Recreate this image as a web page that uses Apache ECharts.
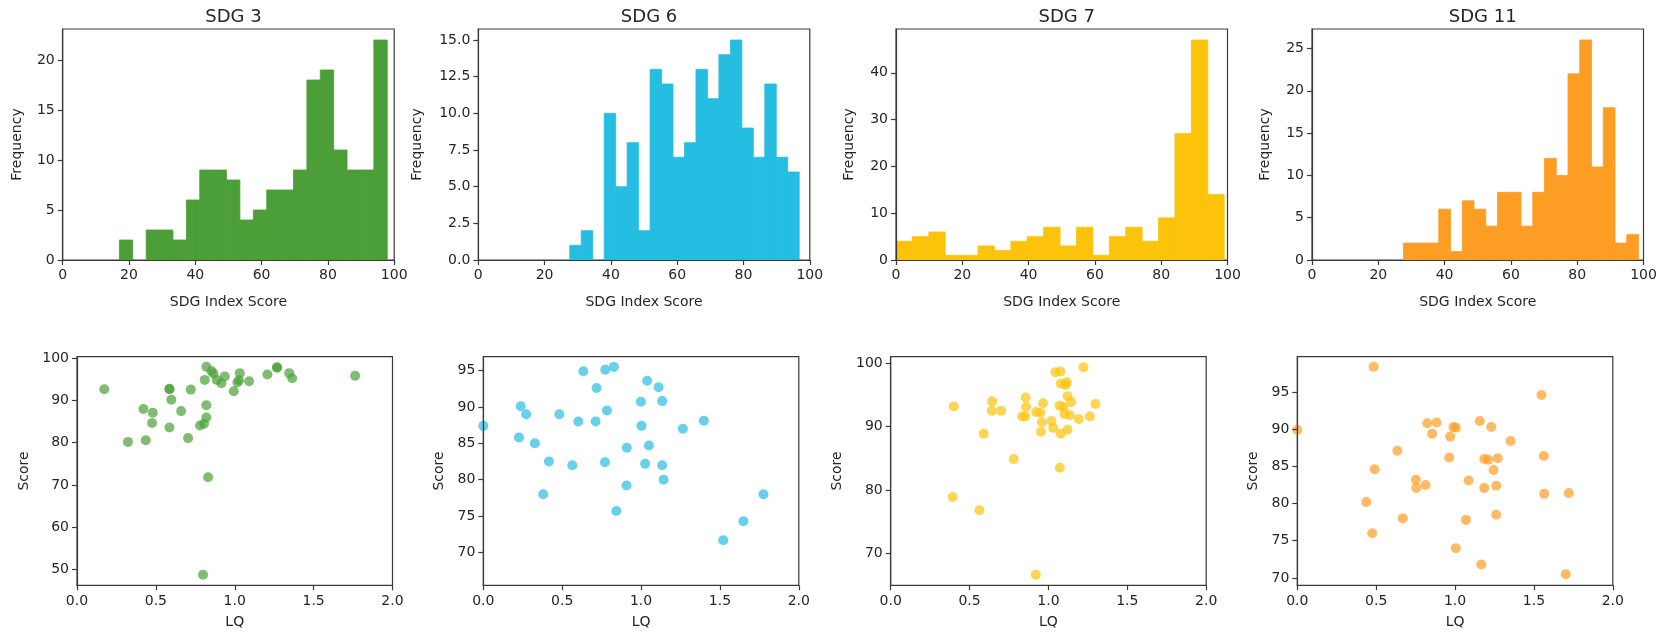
<!DOCTYPE html>
<html>
<head>
<meta charset="utf-8">
<script src="https://cdn.jsdelivr.net/npm/echarts@6/dist/echarts.min.js"></script>
<style>
  html, body { margin: 0; padding: 0; background: #fff; }
  #chart { width: 1665px; height: 633px; }
</style>
</head>
<body>
<div id="chart"></div>
<script>
const titles = ['SDG 3', 'SDG 6', 'SDG 7', 'SDG 11'];
const colors = ['#4C9F38', '#26BDE2', '#FCC30B', '#FD9D24'];

// histograms: first/last bin edge, then counts of the 20 equal bins
const sdg3Range = [17.1, 97.9];
const sdg3Counts = [2, 0, 3, 3, 2, 6, 9, 9, 8, 4, 5, 7, 7, 9, 18, 19, 11, 9, 9, 22];
const sdg6Range = [27.6, 96.8];
const sdg6Counts = [1, 2, 0, 10, 5, 8, 2, 13, 12, 7, 8, 13, 11, 14, 15, 9, 7, 12, 7, 6];
const sdg7Range = [0, 99.0];
const sdg7Counts = [4, 5, 6, 1, 1, 3, 2, 4, 5, 7, 3, 7, 1, 5, 7, 4, 9, 27, 47, 14];
const sdg11Range = [27.6, 98.5];
const sdg11Counts = [2, 2, 2, 6, 1, 7, 6, 4, 8, 8, 4, 8, 12, 10, 22, 26, 11, 18, 2, 3];

const histXTicks = [0, 20, 40, 60, 80, 100];
const histYTicks = [
  [0, 5, 10, 15, 20],
  [0, 2.5, 5, 7.5, 10, 12.5, 15],
  [0, 10, 20, 30, 40],
  [0, 5, 10, 15, 20, 25]
];
const histYMax = [23.1, 15.75, 49.35, 27.3];

// scatter: LQ vs score
const sdg3LQ = [0.173, 0.323, 0.421, 0.436, 0.480, 0.476, 0.586, 0.586, 0.598, 0.586, 0.660, 0.704, 0.721,
  0.820, 0.810, 0.820, 0.820, 0.780, 0.805, 0.831, 0.799, 0.852, 0.865, 0.886, 0.915, 0.937, 0.994,
  1.017, 1.032, 1.027, 1.091, 1.207, 1.268, 1.268, 1.345, 1.364, 1.763];
const sdg3Score = [92.7, 80.2, 88.0, 80.6, 87.1, 84.7, 92.8, 92.7, 90.2, 83.6, 87.5, 81.1, 92.6,
  98.0, 94.9, 88.9, 86.0, 84.1, 84.5, 71.8, 48.7, 97.0, 96.4, 94.9, 94.1, 95.7, 92.2,
  94.3, 96.5, 94.8, 94.6, 96.2, 97.9, 97.8, 96.5, 95.3, 95.9];

const sdg6LQ = [0.0, 0.237, 0.272, 0.226, 0.327, 0.416, 0.380, 0.482, 0.564, 0.602, 0.634, 0.718, 0.712,
  0.773, 0.828, 0.784, 0.771, 0.843, 0.910, 0.908, 0.999, 1.003, 1.039, 1.050, 1.026, 1.111, 1.134,
  1.134, 1.143, 1.265, 1.398, 1.521, 1.649, 1.776];
const sdg6Score = [87.4, 90.1, 89.0, 85.8, 85.0, 82.5, 78.0, 89.0, 82.0, 88.0, 94.9, 92.6, 88.0,
  95.1, 95.5, 89.5, 82.4, 75.7, 84.4, 79.2, 90.7, 87.4, 93.6, 84.7, 82.2, 92.7, 90.8,
  82.0, 80.0, 87.0, 88.1, 71.7, 74.3, 78.0];

const sdg7LQ = [0.400, 0.393, 0.562, 0.590, 0.643, 0.641, 0.700, 0.780, 0.833, 0.854, 0.856, 0.858, 0.920,
  0.922, 0.949, 0.966, 0.958, 0.953, 1.019, 1.030, 1.044, 1.076, 1.078, 1.108, 1.116, 1.070, 1.097,
  1.101, 1.121, 1.144, 1.135, 1.078, 1.121, 1.072, 1.192, 1.222, 1.262, 1.298];
const sdg7Score = [93.2, 78.9, 76.8, 88.9, 94.0, 92.5, 92.5, 84.9, 91.6, 91.6, 94.6, 93.1, 66.6,
  92.3, 92.2, 93.7, 90.7, 89.2, 90.9, 89.8, 98.6, 98.7, 96.8, 96.6, 97.0, 93.3, 93.1,
  92.0, 94.8, 93.9, 91.8, 88.9, 89.5, 83.5, 91.2, 99.4, 91.6, 93.6];

const sdg11LQ = [0.0, 0.484, 0.490, 0.437, 0.475, 0.634, 0.669, 0.752, 0.754, 0.813, 0.824, 0.883, 0.855,
  0.969, 0.963, 0.990, 1.005, 1.005, 1.069, 1.086, 1.157, 1.166, 1.185, 1.210, 1.185, 1.229, 1.244,
  1.271, 1.261, 1.261, 1.352, 1.548, 1.563, 1.565, 1.721, 1.702];
const sdg11Score = [89.9, 98.4, 84.6, 80.2, 76.0, 87.1, 78.0, 83.2, 82.1, 82.5, 90.8, 90.9, 89.4,
  89.0, 86.2, 90.3, 90.2, 74.0, 77.8, 83.1, 91.1, 71.8, 86.0, 85.9, 82.1, 90.3, 84.5,
  86.1, 82.4, 78.5, 88.4, 94.6, 86.4, 81.3, 81.4, 70.5];

const lqTicks = [0, 0.5, 1, 1.5, 2];
const scatterYTicks = [
  [50, 60, 70, 80, 90, 100],
  [70, 75, 80, 85, 90, 95],
  [70, 80, 90, 100],
  [70, 75, 80, 85, 90, 95]
];
const scatterYRange = [[46.2, 100.4], [65.5, 96.9], [64.95, 101.05], [69.0, 99.75]];

const histRanges = [sdg3Range, sdg6Range, sdg7Range, sdg11Range];
const histCounts = [sdg3Counts, sdg6Counts, sdg7Counts, sdg11Counts];
const lqs = [sdg3LQ, sdg6LQ, sdg7LQ, sdg11LQ];
const scores = [sdg3Score, sdg6Score, sdg7Score, sdg11Score];

// layout (px)
const histLeft = [62.7, 478.3, 896, 1312];
const histWidth = 331.5;
const scatLeft = [77, 483.3, 890.7, 1297.3];
const scatWidth = 315.5;
const histYNameGap = [38, 54, 40, 40];
const scatYNameGap = [46, 37, 46, 37];

const textColor = '#262626';
const lineColor = '#3a3a3a';
const font = 'DejaVu Sans';

const binsOf = (range, counts) => {
  const w = (range[1] - range[0]) / counts.length;
  return counts.map((c, i) => [range[0] + i * w, range[0] + (i + 1) * w, c]);
};

const renderBin = (params, api) => {
  if (!api.value(2)) return null;
  const p0 = api.coord([api.value(0), api.value(2)]);
  const p1 = api.coord([api.value(1), 0]);
  const color = api.visual('color');
  return {
    type: 'rect',
    shape: { x: p0[0], y: p0[1], width: p1[0] - p0[0], height: p1[1] - p0[1] },
    // thin stroke of the same colour hides the seams between neighbouring bins
    style: { fill: color, stroke: color, lineWidth: 0.8 }
  };
};

const fmt1 = v => v.toFixed(1);

const axisBase = (ticks, formatter, margin) => ({
  z: 5,
  axisLine: { show: true, onZero: false, lineStyle: { color: lineColor, width: 1.2 } },
  axisTick: { show: true, length: 5, customValues: ticks, lineStyle: { color: lineColor, width: 1.2 } },
  axisLabel: {
    customValues: ticks, formatter, margin,
    color: textColor, fontFamily: font, fontSize: 14
  },
  splitLine: { show: false },
  nameTextStyle: { color: textColor, fontFamily: font, fontSize: 14 },
  nameLocation: 'middle'
});

const grid = [], xAxis = [], yAxis = [], series = [], title = [];

for (let i = 0; i < 4; i++) {
  // top row: histogram
  grid.push({
    left: histLeft[i], top: 29, width: histWidth, height: 231,
    show: true, borderColor: lineColor, borderWidth: 1.2, backgroundColor: 'transparent'
  });
  xAxis.push(Object.assign(axisBase(histXTicks, v => String(v), 8), {
    type: 'value', gridIndex: 2 * i, min: 0, max: 100,
    name: 'SDG Index Score', nameGap: 35
  }));
  yAxis.push(Object.assign(axisBase(histYTicks[i], i === 1 ? fmt1 : v => String(v), 8), {
    type: 'value', gridIndex: 2 * i, min: 0, max: histYMax[i],
    name: 'Frequency', nameGap: histYNameGap[i]
  }));
  series.push({
    type: 'custom', xAxisIndex: 2 * i, yAxisIndex: 2 * i,
    renderItem: renderBin, clip: true,
    itemStyle: { color: colors[i] },
    encode: { x: [0, 1], y: 2 },
    data: binsOf(histRanges[i], histCounts[i])
  });
  title.push({
    text: titles[i], left: histLeft[i] + histWidth / 2, top: 3, textAlign: 'center',
    textStyle: { color: textColor, fontFamily: font, fontSize: 18, fontWeight: 'normal' }
  });

  // bottom row: scatter
  grid.push({
    left: scatLeft[i], top: 356.7, width: scatWidth, height: 228.6,
    show: true, borderColor: lineColor, borderWidth: 1.2, backgroundColor: 'transparent'
  });
  xAxis.push(Object.assign(axisBase(lqTicks, fmt1, 9), {
    type: 'value', gridIndex: 2 * i + 1, min: 0, max: 2,
    name: 'LQ', nameGap: 30
  }));
  yAxis.push(Object.assign(axisBase(scatterYTicks[i], v => String(v), 8), {
    type: 'value', gridIndex: 2 * i + 1,
    min: scatterYRange[i][0], max: scatterYRange[i][1],
    name: 'Score', nameGap: scatYNameGap[i]
  }));
  series.push({
    type: 'scatter', xAxisIndex: 2 * i + 1, yAxisIndex: 2 * i + 1,
    symbolSize: 10, clip: true,
    itemStyle: { color: colors[i], opacity: 0.7 },
    data: lqs[i].map((x, k) => [x, scores[i][k]])
  });
}

const chart = echarts.init(document.getElementById('chart'), null, { renderer: 'canvas' });
chart.setOption({
  animation: false,
  backgroundColor: '#fff',
  title, grid, xAxis, yAxis, series
});
</script>
</body>
</html>
